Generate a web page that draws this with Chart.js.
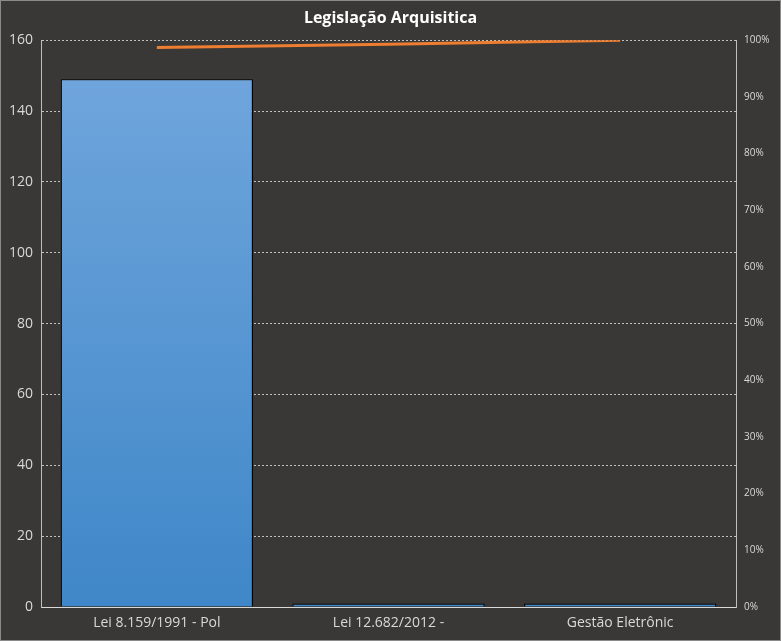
<!DOCTYPE html>
<html>
<head>
<meta charset="utf-8">
<script src="https://cdn.jsdelivr.net/npm/chart.js@4"></script>
<style>
  html, body { margin: 0; padding: 0; background: #3a3836; }
  #wrap { width: 781px; height: 641px; position: relative; outline: 1px solid #8a8a8a; outline-offset: -1px; }
</style>
</head>
<body>
<div id="wrap"><canvas id="chart"></canvas></div>
<script>
// ==============================
// DATA
// ==============================
const categories = ["Lei 8.159/1991 - Pol", "Lei 12.682/2012 -", "Gestão Eletrônic"];
const counts = [149, 1, 1];
const cumulativePct = [98.7, 99.3, 100];

const FONT = "'Liberation Sans Narrow', 'Open Sans', sans-serif";
const TEXT = "#d9d9d9";

function barGradient(ctx) {
  const area = ctx.chart.chartArea;
  if (!area) return "#5b9bd5";
  const g = ctx.chart.ctx.createLinearGradient(0, area.top, 0, area.bottom);
  g.addColorStop(0, "#72a7dd");
  g.addColorStop(1, "#3f87c8");
  return g;
}

// ==============================
// PARETO CHART
// ==============================
new Chart(document.getElementById("chart"), {
  data: {
    labels: categories,
    datasets: [
      {
        type: "line",
        label: "Acumulado",
        data: cumulativePct,
        yAxisID: "y1",
        borderColor: "#ed7d31",
        borderWidth: 3,
        pointRadius: 0,
        tension: 0,
        order: 0
      },
      {
        type: "bar",
        label: "Quantidade",
        data: counts,
        yAxisID: "y",
        backgroundColor: barGradient,
        borderColor: "#000000",
        borderWidth: 1.2,
        barPercentage: 0.83,
        categoryPercentage: 1,
        order: 1
      }
    ]
  },
  options: {
    responsive: true,
    maintainAspectRatio: false,
    animation: false,
    layout: { padding: { top: 9, left: 0, right: 0, bottom: 0 } },
    plugins: {
      legend: { display: false },
      tooltip: { enabled: false },
      title: {
        display: true,
        text: "Legislação Arquisitica",
        color: "#ffffff",
        font: { family: FONT, size: 16, weight: "bold" },
        padding: { top: 0, bottom: 12 }
      }
    },
    scales: {
      x: {
        grid: { display: false, drawTicks: false },
        border: { color: "#d9d9d9", width: 1 },
        ticks: { color: TEXT, font: { family: FONT, size: 14 }, padding: 8 },
        afterFit: s => { s.height = 34; }
      },
      y: {
        position: "left",
        min: 0,
        max: 160,
        ticks: { stepSize: 20, color: TEXT, font: { family: FONT, size: 14 }, padding: 8 },
        grid: { color: "rgba(217,217,217,0.85)", drawTicks: false, tickBorderDash: [2, 2] },
        border: { color: "#bfbfbf", width: 1, dash: [2, 2] },
        afterFit: s => { s.width = 41; }
      },
      y1: {
        position: "right",
        min: 0,
        max: 100,
        ticks: {
          stepSize: 10,
          color: TEXT,
          font: { family: FONT, size: 10 },
          padding: 8,
          callback: v => v + "%"
        },
        grid: { display: false, drawTicks: false },
        border: { color: "#bfbfbf", width: 1 },
        afterFit: s => { s.width = 45; }
      }
    }
  }
});
</script>
</body>
</html>
